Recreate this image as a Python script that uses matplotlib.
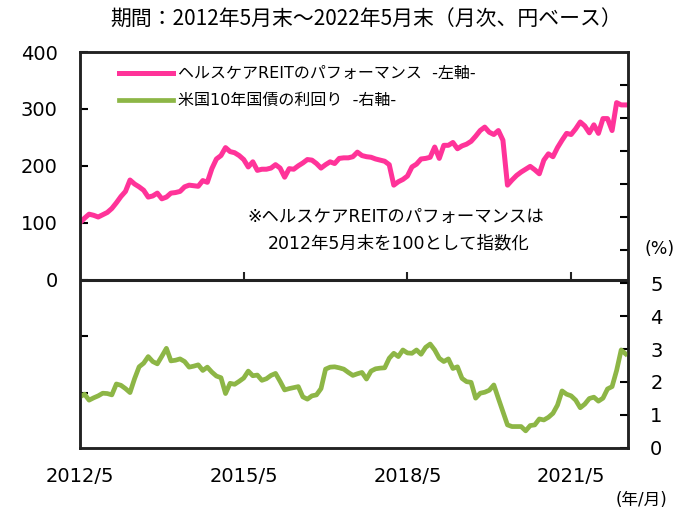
import numpy as np
import matplotlib
matplotlib.use('Agg')
from matplotlib import pyplot as plt

plt.rcParams['font.family'] = ['DejaVu Sans', 'Noto Sans CJK JP']

# 月次データ 2012/5 〜 2022/5 (121ヶ月)
reit = [100, 108, 115, 113, 110, 114, 118, 125, 135, 146,
        155, 175, 168, 163, 157, 145, 147, 152, 142, 145,
        152, 153, 155, 163, 166, 165, 164, 174, 171, 195,
        212, 218, 232, 225, 223, 218, 211, 198, 207, 192,
        194, 194, 196, 202, 196, 180, 195, 194, 200, 205,
        211, 210, 204, 196, 202, 207, 204, 213, 214, 214,
        216, 224, 218, 216, 215, 212, 210, 208, 202, 166,
        172, 176, 182, 198, 203, 212, 213, 215, 233, 213,
        236, 236, 241, 230, 235, 238, 243, 252, 262, 268,
        259, 255, 262, 245, 166, 175, 183, 189, 194, 199,
        193, 186, 210, 221, 216, 232, 245, 257, 255, 265,
        277, 270, 258, 272, 257, 283, 283, 262, 311, 307,
        307]

yield10 = [1.55, 1.63, 1.45, 1.52, 1.58, 1.66, 1.65, 1.61, 1.94, 1.90,
           1.80, 1.68, 2.10, 2.46, 2.57, 2.77, 2.62, 2.55, 2.78, 3.02,
           2.64, 2.66, 2.70, 2.62, 2.45, 2.48, 2.52, 2.35, 2.45, 2.30,
           2.18, 2.13, 1.65, 1.96, 1.93, 2.02, 2.12, 2.33, 2.19, 2.21,
           2.05, 2.10, 2.20, 2.26, 2.02, 1.76, 1.80, 1.83, 1.86, 1.55,
           1.48, 1.58, 1.61, 1.80, 2.39, 2.45, 2.46, 2.43, 2.39, 2.29,
           2.20, 2.25, 2.29, 2.09, 2.33, 2.40, 2.42, 2.43, 2.72, 2.87,
           2.77, 2.97, 2.88, 2.87, 2.97, 2.84, 3.05, 3.15, 2.97, 2.72,
           2.62, 2.70, 2.41, 2.46, 2.11, 2.01, 1.99, 1.51, 1.66, 1.69,
           1.75, 1.91, 1.50, 1.10, 0.70, 0.65, 0.65, 0.65, 0.52, 0.68,
           0.70, 0.88, 0.85, 0.93, 1.05, 1.30, 1.73, 1.63, 1.58, 1.45,
           1.22, 1.33, 1.50, 1.54, 1.42, 1.51, 1.79, 1.86, 2.35, 2.97,
           2.85]

xtick_pos = [0, 36, 72, 108]
xtick_labels = ['2012/5', '2015/5', '2018/5', '2021/5']

pink = '#FF3399'
green = '#8DB646'

months = np.arange(len(reit))

fig = plt.figure(figsize=(6.82, 5.11), dpi=100)
ax = fig.add_axes([0.1173, 0.1233, 0.8035, 0.7749])
ax2 = ax.twinx()

l1, = ax.plot(months, reit, color=pink, lw=3.6, solid_joinstyle='round',
              label='ヘルスケアREITのパフォーマンス  -左軸-')
l2, = ax2.plot(months, yield10, color=green, lw=3.4, solid_joinstyle='round',
               label='米国10年国債の利回り  -右軸-')

ax.set_xlim(0, 120.5)
ax.set_ylim(-296, 400)
ax2.set_ylim(0, 12)

# 左軸
ax.set_yticks(np.arange(-200, 401, 100))
ax.set_yticklabels(['', ''] + [str(v) for v in range(0, 401, 100)])
ax.tick_params(axis='y', direction='in', length=6, width=1.5, pad=16, labelsize=14)
# 右軸
ax2.set_yticks(np.arange(0, 12))
ax2.set_yticklabels([str(v) for v in range(0, 6)] + [''] * 6)
ax2.tick_params(axis='y', direction='in', length=6, width=1.5, pad=16, labelsize=14)

# x軸（目盛りは区切り線上に上向き）
ax.set_xticks(xtick_pos)
ax.set_xticklabels(xtick_labels)
ax.tick_params(axis='x', length=0, pad=14, labelsize=14)
ax.vlines(xtick_pos, 0, 14, color='#222222', lw=1.5)
ax.axhline(0, color='#222222', lw=2.2)

for a in (ax, ax2):
    for s in a.spines.values():
        s.set_linewidth(1.8)
        s.set_color('#222222')

leg = ax.legend(handles=[l1, l2], loc='upper left', bbox_to_anchor=(0.045, 1.0),
                frameon=False, fontsize=11.5, handlelength=3.4, handletextpad=0.3,
                labelspacing=0.75)

ax.text(0.305, 0.583, '※ヘルスケアREITのパフォーマンスは', transform=ax.transAxes,
        fontsize=12.5, ha='left', va='center')
ax.text(0.343, 0.518, '2012年5月末を100として指数化', transform=ax.transAxes,
        fontsize=12.5, ha='left', va='center')

fig.text(0.537, 0.962, '期間：2012年5月末～2022年5月末（月次、円ベース）',
         fontsize=15, ha='center', va='center', family=['Noto Sans CJK JP', 'DejaVu Sans'])
fig.text(0.967, 0.513, '(%)', fontsize=12.5, ha='center', va='center')
fig.text(0.94, 0.022, '(年/月)', fontsize=12, ha='center', va='center')

fig.savefig('out.png', dpi=100)
